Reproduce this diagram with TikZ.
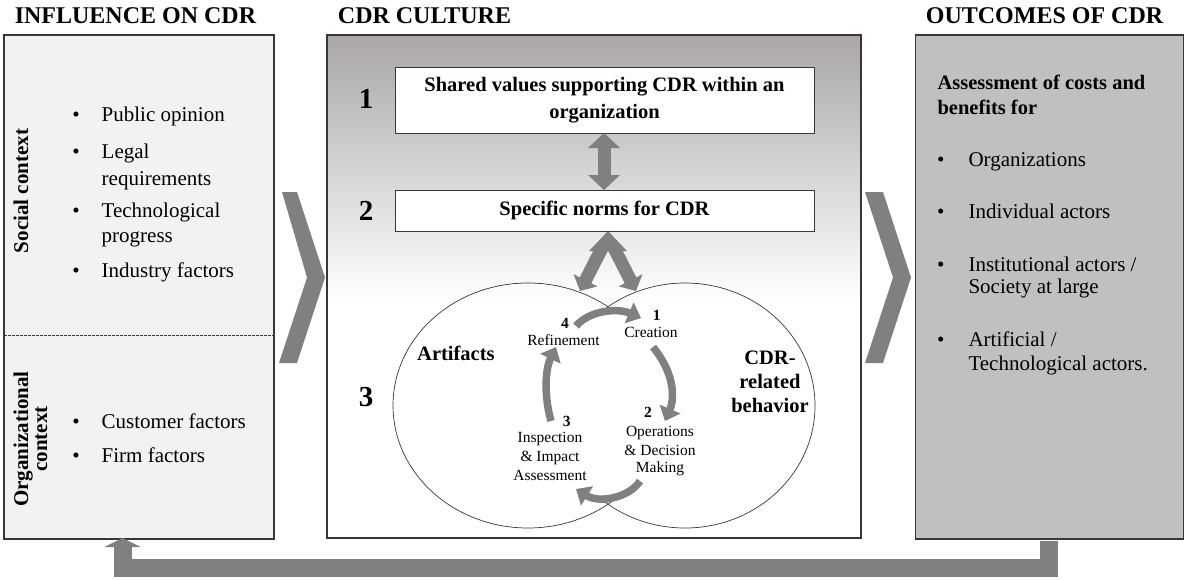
\documentclass[tikz,border=0pt]{standalone}
\usepackage{fontspec}
\setmainfont{Liberation Serif}
\usetikzlibrary{arrows.meta}

\definecolor{arrowgray}{RGB}{128,128,128}
\definecolor{leftfill}{RGB}{242,242,242}
\definecolor{rightfill}{RGB}{192,192,192}
\definecolor{topgray}{RGB}{170,166,166}
\definecolor{edge}{RGB}{55,55,55}

\tikzset{
  panel/.style={draw=edge, line width=1.1pt, inner sep=0pt, outer sep=0pt},
  whitebox/.style={draw=edge, line width=0.9pt, fill=white, inner sep=0pt, outer sep=0pt,
    minimum width=419pt, align=center, font=\fontsize{20.5}{27}\selectfont\bfseries},
  heading/.style={font=\fontsize{24}{28}\selectfont\bfseries, inner sep=0pt, anchor=base},
  body/.style={font=\fontsize{21}{26}\selectfont, inner sep=0pt, anchor=base west},
  bodybold/.style={font=\fontsize{20.5}{26}\selectfont\bfseries, inner sep=0pt, anchor=base west},
  bul/.style={font=\fontsize{21}{26}\selectfont, inner sep=0pt, anchor=base},
  level/.style={font=\fontsize{29}{34}\selectfont\bfseries, inner sep=0pt},
  sidelabel/.style={font=\fontsize{21}{19}\selectfont\bfseries, inner sep=0pt, rotate=90, align=center},
  circlabel/.style={font=\fontsize{20.5}{24}\selectfont\bfseries, inner sep=0pt, anchor=base},
  small/.style={font=\fontsize{15.5}{19}\selectfont, inner sep=0pt, anchor=base},
  smallnum/.style={font=\fontsize{15.5}{19}\selectfont\bfseries, inner sep=0pt, anchor=base},
  chevron/.style={fill=arrowgray},
  cyclearrow/.style={draw=arrowgray, line width=7.5pt, -{Triangle[length=13pt,width=22pt]}},
  blockarrow/.style={draw=arrowgray, line width=13pt},
}

\begin{document}
\begin{tikzpicture}[x=1pt,y=-1pt]
\useasboundingbox (0,0) rectangle (1185,579);

% column headings
\node[heading] (hInf) at (135.5,23.3) {INFLUENCE ON CDR};
\node[heading] (hCul) at (424.5,23.3) {CDR CULTURE};
\node[heading] (hOut) at (1044.5,23.3) {OUTCOMES OF CDR};

% left panel: influences
\node[panel, fill=leftfill, minimum width=270pt, minimum height=504pt] (inf) at (139,287) {};
\draw[edge, line width=0.6pt, dash pattern=on 2.5pt off 1.5pt] (inf.west |- 0,335) coordinate (dl) -- (inf.east |- 0,335) coordinate (dr);

\node[sidelabel] (social) at (21,191) {Social context};
\node[sidelabel] (orgctx) at (30.5,439) {Organizational\\context};

\node[bul] (b1) at (76,121.7) {•};
\node[body] (i1) at (101.5,121.7) {Public opinion};
\node[bul] (b2) at (76,158) {•};
\node[body] (i2a) at (101.5,158) {Legal};
\node[body] (i2b) at (101.5,185) {requirements};
\node[bul] (b3) at (76,217.3) {•};
\node[body] (i3a) at (101.5,217.3) {Technological};
\node[body] (i3b) at (101.5,242) {progress};
\node[bul] (b4) at (76,277.3) {•};
\node[body] (i4) at (101.5,277.3) {Industry factors};
\node[bul] (b5) at (76,428.3) {•};
\node[body] (i5) at (101.5,428.3) {Customer factors};
\node[bul] (b6) at (76,462.3) {•};
\node[body] (i6) at (101.5,462.3) {Firm factors};

% middle panel: CDR culture
\node[panel, fill=white, minimum width=534pt, minimum height=503pt] (cul) at (594,286.5) {};
\shade[top color=topgray, bottom color=white] (327.6,35.6) rectangle (860.4,300);
\node[panel, minimum width=534pt, minimum height=503pt] (culframe) at (594,286.5) {};

\node[whitebox, minimum height=66pt] (values) at (604.5,100) {Shared values supporting CDR within an\\organization};
\node[whitebox, minimum height=41pt] (norms) at (604.5,210.5) {Specific norms for CDR};

\node[level] (n1) at (366,98.5) {1};
\node[level] (n2) at (366,211) {2};
\node[level] (n3) at (366,397) {3};

% values <-> norms
\draw[blockarrow, {Triangle[length=15pt,width=31pt]}-{Triangle[length=15pt,width=31pt]}]
  (values.south -| 604,0) -- (norms.north -| 604,0);

% two overlapping circles; the lens in between is kept clear for the cycle
\draw[edge, line width=0.7pt] (528,405.5) ellipse [x radius=135, y radius=122.5];
\draw[edge, line width=0.7pt] (685,405.5) ellipse [x radius=130, y radius=122.5];
\fill[white] (546,309) rectangle (670,496);

% forked arrow from the circles up to the norms
\coordinate (lamL) at (580,291);
\coordinate (lamR) at (636,291);
\fill[arrowgray] (589,251) -- (norms.south -| 608,0) -- (627,251) -- cycle;
\draw[arrowgray, line width=13pt, -{Triangle[length=12pt,width=26pt]}] (602,248) -- (lamL);
\draw[arrowgray, line width=13pt, -{Triangle[length=12pt,width=26pt]}] (614,248) -- (lamR);

\node[circlabel, anchor=base west] (art) at (417,360) {Artifacts};
\node[circlabel] (beh1) at (770,364) {CDR-};
\node[circlabel] (beh2) at (770,388.3) {related};
\node[circlabel] (beh3) at (770,412.7) {behavior};

% cycle labels
\node[smallnum] (c4n) at (565,328.3) {4};
\node[small] (c4) at (563.5,345) {Refinement};
\node[smallnum] (c1n) at (656.7,320.7) {1};
\node[small] (c1) at (651,337.3) {Creation};
\node[smallnum] (c2n) at (648,417.7) {2};
\node[small] (c2a) at (660,436) {Operations};
\node[small] (c2b) at (660,455) {\& Decision};
\node[small] (c2c) at (660,472.7) {Making};
\node[smallnum] (c3n) at (566.7,426.7) {3};
\node[small] (c3a) at (550,442.7) {Inspection};
\node[small] (c3b) at (550,461) {\& Impact};
\node[small] (c3c) at (550,480) {Assessment};

% cycle arrows
\draw[cyclearrow] (576,326) .. controls (590,310) and (618,308) .. (641,318);
\draw[cyclearrow] (653,347) .. controls (672,370) and (676,395) .. (665,421);
\draw[cyclearrow] (640,481) .. controls (630,497) and (600,504) .. (576,489);
\draw[cyclearrow] (551,421) .. controls (545,400) and (544,372) .. (556,347);

% right panel: outcomes
\node[panel, fill=rightfill, minimum width=268.5pt, minimum height=504pt] (out) at (1049.5,287) {};
\node[bodybold] (o0a) at (937.3,89.3) {Assessment of costs and};
\node[bodybold] (o0b) at (937.3,114) {benefits for};
\node[bul] (ob1) at (940.7,166.7) {•};
\node[body] (o1) at (968.3,166.7) {Organizations};
\node[bul] (ob2) at (940.7,218.3) {•};
\node[body] (o2) at (968.3,218.3) {Individual actors};
\node[bul] (ob3) at (940.7,271.7) {•};
\node[body] (o3a) at (968.3,271.7) {Institutional actors /};
\node[body] (o3b) at (968.3,293.3) {Society at large};
\node[bul] (ob4) at (940.7,346.7) {•};
\node[body] (o4a) at (968.3,346.7) {Artificial /};
\node[body] (o4b) at (968.3,370) {Technological actors.};

% chevrons between the panels
\fill[chevron] (282,192) -- (297,192) -- (325,277.5) -- (297,363) -- (279,363) -- (307,277.5) -- cycle;
\fill[chevron] (865,192) -- (883,192) -- (911,277.5) -- (883,363) -- (865,363) -- (893,277.5) -- cycle;

% feedback from outcomes back to influences
\coordinate (fbR) at (1048.5,567.5);
\coordinate (fbL) at (122.5,567.5);
\draw[arrowgray, line width=18pt, line join=miter, -{Triangle[length=9pt,width=36pt]}]
  (out.south -| 1048.5,0) ++(0,1.5) -- (fbR) -- (fbL) -- ([yshift=1pt]inf.south -| 122.5,0);
\end{tikzpicture}
\end{document}
